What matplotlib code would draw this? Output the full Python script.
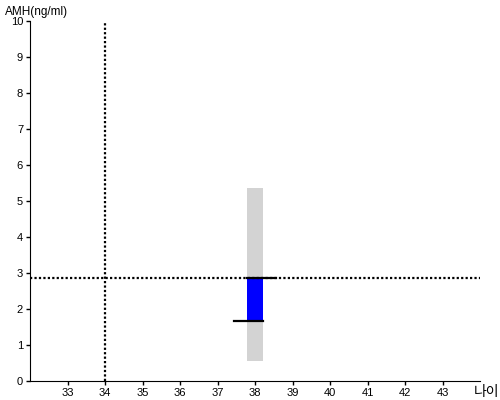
import matplotlib
matplotlib.use("Agg")
import matplotlib.pyplot as plt

# data
ages = [38]
range_lo = [0.55]
range_hi = [5.35]
amh_hi = [2.86]
amh_lo = [1.67]
ref_age = 34
ref_amh = 2.86
x_ticks = list(range(33, 44))
y_ticks = list(range(0, 11))

plt.rcParams["font.family"] = ["Liberation Sans", "Noto Sans CJK KR", "DejaVu Sans"]
plt.rcParams["font.size"] = 8

fig = plt.figure(figsize=(5, 4), dpi=100)
ax = fig.add_axes([0.06, 0.0475, 0.90, 0.90])

w = 0.43
for a, lo, hi, top, bot in zip(ages, range_lo, range_hi, amh_hi, amh_lo):
    ax.bar(a, hi - lo, w, bottom=lo, color="#d3d3d3", zorder=1)
    ax.bar(a, top - bot, w, bottom=bot, color="#0000ff", zorder=2)
    ax.plot([a - w/2, a + 0.55], [top, top], color="black", lw=1.6, zorder=4)
    ax.plot([a - 0.55, a + w/2], [bot, bot], color="black", lw=1.6, zorder=4)

ax.axvline(ref_age, color="black", lw=1.6, linestyle=(0, (1, 1)), zorder=3)
ax.axhline(ref_amh, color="black", lw=1.6, linestyle=(0, (1, 1)), zorder=3)

ax.set_xlim(32, 44)
ax.set_ylim(0, 10)
ax.set_xticks(x_ticks)
ax.set_yticks(y_ticks)
ax.tick_params(length=3, width=1, pad=2, labelsize=8)
for s in ("top", "right"):
    ax.spines[s].set_visible(False)

fig.text(0.01, 0.97, "AMH(ng/ml)", ha="left", va="center", fontsize=8.5)
fig.text(0.974, 0.02, "나이", ha="center", va="center", fontsize=10)

fig.savefig("out.png", dpi=100)
